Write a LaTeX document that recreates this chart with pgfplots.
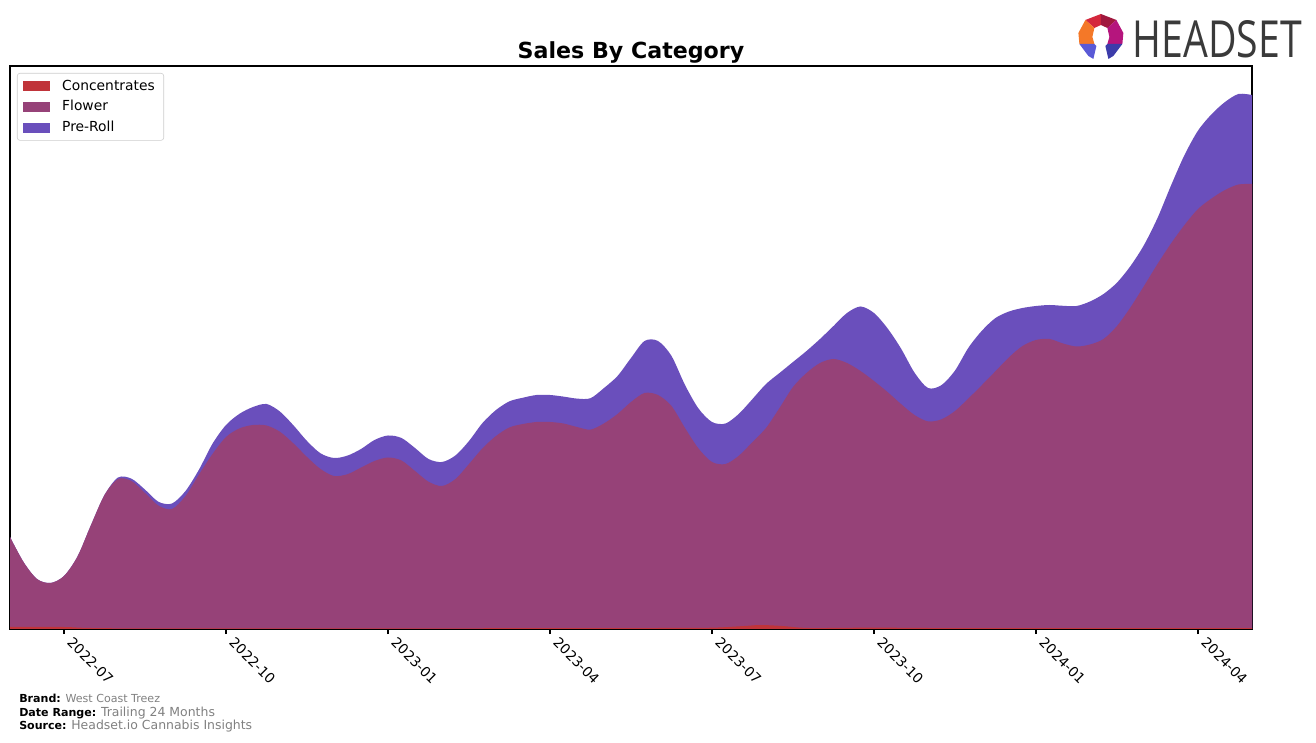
\documentclass[border=0pt]{standalone}
\usepackage{fontspec}
\setmainfont{DejaVu Sans}
\newfontfamily\logofont{Open Sans}
\usepackage{pgfplots}
\usepackage{pgfplotstable}
\pgfplotsset{compat=1.18}

\definecolor{conc}{RGB}{192,52,58}
\definecolor{flower}{RGB}{150,66,120}
\definecolor{preroll}{RGB}{106,79,188}
\definecolor{footgray}{RGB}{128,128,128}
\definecolor{logogray}{RGB}{58,58,58}
\definecolor{legborder}{RGB}{204,204,204}
\definecolor{lgred}{RGB}{212,40,60}
\definecolor{lgdred}{RGB}{160,24,62}
\definecolor{lgorange}{RGB}{244,120,40}
\definecolor{lgmag}{RGB}{181,21,125}
\definecolor{lgblue}{RGB}{90,90,214}
\definecolor{lgdblue}{RGB}{60,60,170}

% month index (0 = 2022-06), cumulative top of Flower and of Pre-Roll
\pgfplotstableread{
m flowertop total
0 92 92
0.25 67 67
0.5 50 50
0.75 46 46
1.0 53 53
1.25 72.5 72.5
1.5 104 104
1.75 134 134
2.0 150 151.5
2.25 148 150.3
2.5 136 139.4
2.75 123.4 127.2
3.0 120 125.5
3.25 133 138
3.5 154.5 159.4
3.75 175 185.3
4.0 192 204
4.25 200.6 215.2
4.5 204 222
4.75 203.5 225
5.0 197.2 217.4
5.25 185.5 203.6
5.5 172 188
5.75 160 175.7
6.0 153 171
6.25 154.8 173.4
6.5 161.4 180
6.75 168 189
7.0 171.5 193.5
7.25 168.5 191
7.5 158 181
7.75 147.3 170
8.0 143 167
8.25 150 173.6
8.5 165 188
8.75 180.7 206
9.0 193 219
9.25 201.6 227.7
9.5 205 231.3
9.75 207 234
10.0 207 234
10.25 205.5 232.4
10.5 202 230.4
10.75 199.4 230.8
11.0 205.6 241
11.25 215 253
11.5 227 271
11.75 236 288
12.0 234 288
12.25 223 273
12.5 201 244
12.75 180.5 220.5
13.0 167 207
13.25 165 205.5
13.5 173.4 215.3
13.75 187 230
14.0 201 245
14.25 221 256
14.5 242 267
14.75 256 278
15.0 266 290
15.25 270 303
15.5 266 316
15.75 258 322.5
16.0 248 316
16.25 237 300.7
16.5 225 280.5
16.75 214 256.4
17.0 207.6 241
17.25 209.7 243.9
17.5 218 258.5
17.75 230.6 281.4
18.0 244 298.4
18.25 257.8 311
18.5 271.7 317.5
18.75 283 321
19.0 289 323
19.25 290 324
19.5 285.5 323.2
19.75 282.5 323
20.0 284.5 327.5
20.25 290 335
20.5 303 346.4
20.75 321.7 363
21.0 343 384
21.25 365 411
21.5 385.5 443.5
21.75 404 474
22.0 420 498.4
22.25 430.5 514.7
22.5 439 527
22.75 444.5 535
23.0 445 534
}\salestab

\pgfplotstableread{
m conc
0 2
1 2
1.5 1
3 0.6
10 0.8
12 1
13 1.3
13.6 3
13.9 4
14.3 3
14.8 1
16 1.4
17 1
19 0.8
23 0.8
}\conctab

\begin{document}
\begin{tikzpicture}
\path[use as bounding box] (0,0) rectangle (13.16in,7.43in);

\begin{axis}[
  at={(0.10in,1.14in)}, anchor=south west,
  scale only axis, width=12.42in, height=5.63in,
  xmin=0, xmax=23, ymin=0, ymax=563,
  axis line style={black, line width=0.8pt},
  ytick=\empty,
  xtick={1,4,7,10,13,16,19,22},
  xticklabels={2022-07,2022-10,2023-01,2023-04,2023-07,2023-10,2024-01,2024-04},
  xtick pos=bottom, tick align=outside,
  major tick length=0.05in,
  tick style={black, line width=0.8pt},
  xticklabel style={xshift=7pt, rotate=-45, anchor=north west, font=\fontsize{10}{12}\selectfont, inner sep=1pt},
  title={Sales By Category},
  title style={font=\fontsize{16}{19}\selectfont\bfseries, at={(0.5,1)}, anchor=south, inner sep=0pt, yshift=-4.5pt},
  legend style={at={(0.0056,0.9876)}, anchor=north west, draw=legborder,
    rounded corners=2pt, font=\fontsize{10}{12}\selectfont, row sep=2pt, column sep=6.5pt,
    inner xsep=4.5pt, inner ysep=2.7pt},
  legend cell align=left,
  legend image code/.code={\fill[#1, draw=none, sharp corners] (0in,-0.05in) rectangle (0.27in,0.05in);},
]
\addlegendimage{fill=conc}
\addlegendimage{fill=flower}
\addlegendimage{fill=preroll}
\legend{Concentrates,Flower,Pre-Roll}

\addplot[forget plot, smooth, fill=preroll, draw=none] table[x=m, y=total] {\salestab} \closedcycle;
\addplot[forget plot, smooth, fill=flower, draw=none] table[x=m, y=flowertop] {\salestab} \closedcycle;
\addplot[forget plot, smooth, fill=conc, draw=none] table[x=m, y=conc] {\conctab} \closedcycle;
\end{axis}

\begin{scope}[yshift=7.43in, x=0.01in, y=-0.01in]
  % footer
  \node[anchor=base west, inner sep=0pt] at (19,703) {\fontsize{8}{9}\selectfont\textbf{Brand:} \textcolor{footgray}{West Coast Treez}};
  \node[anchor=base west, inner sep=0pt] at (19,717) {\fontsize{8}{9}\selectfont\textbf{Date Range:} \textcolor{footgray}{\fontsize{9}{10}\selectfont Trailing 24 Months}};
  \node[anchor=base west, inner sep=0pt] at (19,730) {\fontsize{8}{9}\selectfont\textbf{Source:} \textcolor{footgray}{\fontsize{9}{10}\selectfont Headset.io Cannabis Insights}};
  % logo
  \fill[lgred] (1101.5,14) -- (1086,20) -- (1095,28) -- (1101.5,25) -- cycle;
  \fill[lgdred] (1101.5,14) -- (1117,20) -- (1108,28) -- (1101.5,25) -- cycle;
  \fill[lgorange] (1086,20) -- (1079,33) -- (1080,44) -- (1095,44) -- (1093,37) -- (1095,28) -- cycle;
  \fill[lgmag] (1117,20) -- (1124,33) -- (1123,44) -- (1108,44) -- (1110,37) -- (1108,28) -- cycle;
  \fill[lgblue] (1080,44) -- (1089,56) -- (1094,59) -- (1097,46) -- (1095,44) -- cycle;
  \fill[lgdblue] (1123,44) -- (1114,56) -- (1109,59) -- (1106,46) -- (1108,44) -- cycle;
  \node[anchor=north west, inner sep=0pt, text=logogray] at (1133,20) {\resizebox{1.69in}{0.37in}{\logofont HEADSET}};
\end{scope}
\end{tikzpicture}
\end{document}
